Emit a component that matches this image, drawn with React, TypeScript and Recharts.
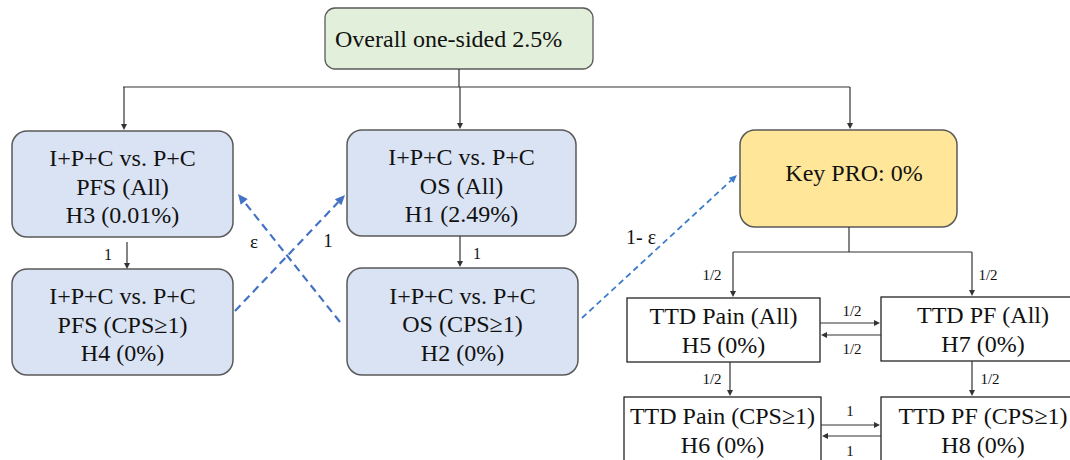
import { ScatterChart, Scatter, XAxis, YAxis, ReferenceArea, ReferenceLine } from 'recharts';

// hypotheses / boxes
const nodeText = [
  ['Overall one-sided 2.5%'],
  ['I+P+C vs. P+C', 'PFS (All)', 'H3 (0.01%)'],
  ['I+P+C vs. P+C', 'PFS (CPS≥1)', 'H4 (0%)'],
  ['I+P+C vs. P+C', 'OS (All)', 'H1 (2.49%)'],
  ['I+P+C vs. P+C', 'OS (CPS≥1)', 'H2 (0%)'],
  ['Key PRO: 0%'],
  ['TTD Pain (All)', 'H5 (0%)'],
  ['TTD PF (All)', 'H7 (0%)'],
  ['TTD Pain (CPS≥1)', 'H6 (0%)'],
  ['TTD PF (CPS≥1)', 'H8 (0%)'],
];
const nodeKind = ['root', 'test', 'test', 'test', 'test', 'key', 'pro', 'pro', 'pro', 'pro'];

// box corners in diagram units [x1, y1, x2, y2]
const nodeBounds = [
  [325, 8, 593, 69],
  [12, 131, 233, 237],
  [12, 269, 233, 375],
  [347, 130, 576, 236],
  [347, 268, 578, 375],
  [740, 130, 957, 227],
  [627, 298, 820, 362],
  [881, 297, 1085, 361],
  [624, 397, 821, 463],
  [881, 397, 1085, 463],
];

// solid connectors: [x1, y1, x2, y2, arrow]
const solidLinks: [number, number, number, number, boolean][] = [
  [459, 69, 459, 87, false],
  [123, 87, 850, 87, false],
  [124, 87, 124, 130, true],
  [460, 87, 460, 129, true],
  [850, 87, 850, 129, true],
  [127, 242, 127, 269, true],
  [460, 236, 460, 267, true],
  [849, 227, 849, 252, false],
  [733, 252, 972, 252, false],
  [733, 252, 733, 297, true],
  [972, 252, 972, 296, true],
  [820, 323, 880, 323, true],
  [881, 335, 821, 335, true],
  [730, 362, 730, 396, true],
  [972, 361, 972, 396, true],
  [821, 425, 880, 425, true],
  [881, 436, 822, 436, true],
];

// dashed alpha-passing arrows: [x1, y1, x2, y2]
const dashedLinks = [
  [235, 311, 345, 195],
  [340, 322, 238, 194],
  [582, 318, 737, 175],
];

// weights on the edges
const edgeLabels = [
  { x: 108, y: 255, text: '1', size: 16 },
  { x: 477, y: 254, text: '1', size: 16 },
  { x: 328, y: 241, text: '1', size: 19 },
  { x: 254, y: 242, text: 'ε', size: 19 },
  { x: 641, y: 237, text: '1- ε', size: 20 },
  { x: 712, y: 275, text: '1/2', size: 15 },
  { x: 988, y: 275, text: '1/2', size: 15 },
  { x: 852, y: 311, text: '1/2', size: 15 },
  { x: 852, y: 349, text: '1/2', size: 15 },
  { x: 712, y: 379, text: '1/2', size: 15 },
  { x: 990, y: 379, text: '1/2', size: 15 },
  { x: 850, y: 411, text: '1', size: 15 },
  { x: 850, y: 451, text: '1', size: 15 },
];

const FONT = 'Liberation Serif';
const BOX_FS = 24;

const kindStyle: Record<string, any> = {
  root: { fill: '#e2efda', stroke: '#5a5a5a', sw: 1.3, r: 10, dx: 0, dy: 0, lh: 28.5 },
  test: { fill: '#dae3f3', stroke: '#5a5a5a', sw: 1.5, r: 15, dx: 0, dy: 2.5, lh: 28.5 },
  key: { fill: '#ffe699', stroke: '#5a5a5a', sw: 1.5, r: 15, dx: 5.5, dy: -6, lh: 28.5 },
  pro: { fill: '#ffffff', stroke: '#111111', sw: 1.2, r: 0, dx: 0, dy: 0, lh: 29 },
};

function boxShape(i: number) {
  return (p: any) => {
    const st = kindStyle[nodeKind[i]];
    const lines = nodeText[i];
    const left = nodeKind[i] === 'root';
    const tx = left ? p.x + 10 : p.x + p.width / 2 + st.dx;
    const cy = p.y + p.height / 2 + st.dy;
    return (
      <g>
        <rect x={p.x} y={p.y} width={p.width} height={p.height} rx={st.r} ry={st.r}
          fill={st.fill} stroke={st.stroke} strokeWidth={st.sw} />
        {lines.map((t, k) => (
          <text key={k} x={tx} y={Math.round(cy + (k - (lines.length - 1) / 2) * st.lh + 0.34 * BOX_FS)}
            style={{ fontFamily: FONT, fontSize: BOX_FS }} fill="#111" textAnchor={left ? 'start' : 'middle'}>
            {t}
          </text>
        ))}
      </g>
    );
  };
}

function arrowShape(color: string, width: number, dash: string | undefined, arrow: boolean, hl: number, hw: number) {
  return (p: any) => {
    const { x1, y1, x2, y2 } = p;
    const dx = x2 - x1;
    const dy = y2 - y1;
    const len = Math.hypot(dx, dy) || 1;
    const ux = dx / len;
    const uy = dy / len;
    const bx = x2 - ux * hl;
    const by = y2 - uy * hl;
    const pts = `${x2},${y2} ${bx - uy * hw},${by + ux * hw} ${bx + uy * hw},${by - ux * hw}`;
    return (
      <g>
        <line x1={x1} y1={y1} x2={arrow ? bx : x2} y2={arrow ? by : y2} stroke={color} strokeWidth={width} strokeDasharray={dash} />
        {arrow && <polygon points={pts} fill={color} />}
      </g>
    );
  };
}

const renderLabel = (p: any) => (
  <text x={p.cx} y={Math.round(p.cy + 0.34 * p.payload.size)} textAnchor="middle"
    style={{ fontFamily: FONT, fontSize: p.payload.size }} fill="#111">
    {p.payload.text}
  </text>
);

export default function App() {
  return (
    <div className="flow" style={{ position: 'absolute', left: 0, top: 0, background: '#fff' }}>
      <style>{`.flow svg text { font-family: 'Liberation Serif', Tinos, 'Times New Roman', serif !important; }`}</style>
      <ScatterChart width={1070} height={460} margin={{ top: 0, right: 0, bottom: 0, left: 0 }}>
        <XAxis type="number" dataKey="x" domain={[0, 1070]} hide allowDataOverflow />
        <YAxis type="number" dataKey="y" domain={[0, 460]} reversed hide allowDataOverflow />
        {nodeBounds.map((b, i) => (
          <ReferenceArea key={'n' + i} x1={b[0]} y1={b[1]} x2={b[2]} y2={b[3]} ifOverflow="visible" shape={boxShape(i)} />
        ))}
        {solidLinks.map((l, i) => (
          <ReferenceLine key={'s' + i} segment={[{ x: l[0], y: l[1] }, { x: l[2], y: l[3] }]} ifOverflow="visible"
            shape={arrowShape('#333', 1.2, undefined, l[4], 6, 3)} />
        ))}
        {dashedLinks.map((l, i) => (
          <ReferenceLine key={'d' + i} segment={[{ x: l[0], y: l[1] }, { x: l[2], y: l[3] }]} ifOverflow="visible"
            shape={i < 2
              ? arrowShape('#4472c4', 2.2, '8 5', true, 10, 4.5)
              : arrowShape('#3d7cc9', 1.8, '6 4', true, 8, 3.5)} />
        ))}
        <Scatter data={edgeLabels} shape={renderLabel} isAnimationActive={false} />
      </ScatterChart>
    </div>
  );
}
